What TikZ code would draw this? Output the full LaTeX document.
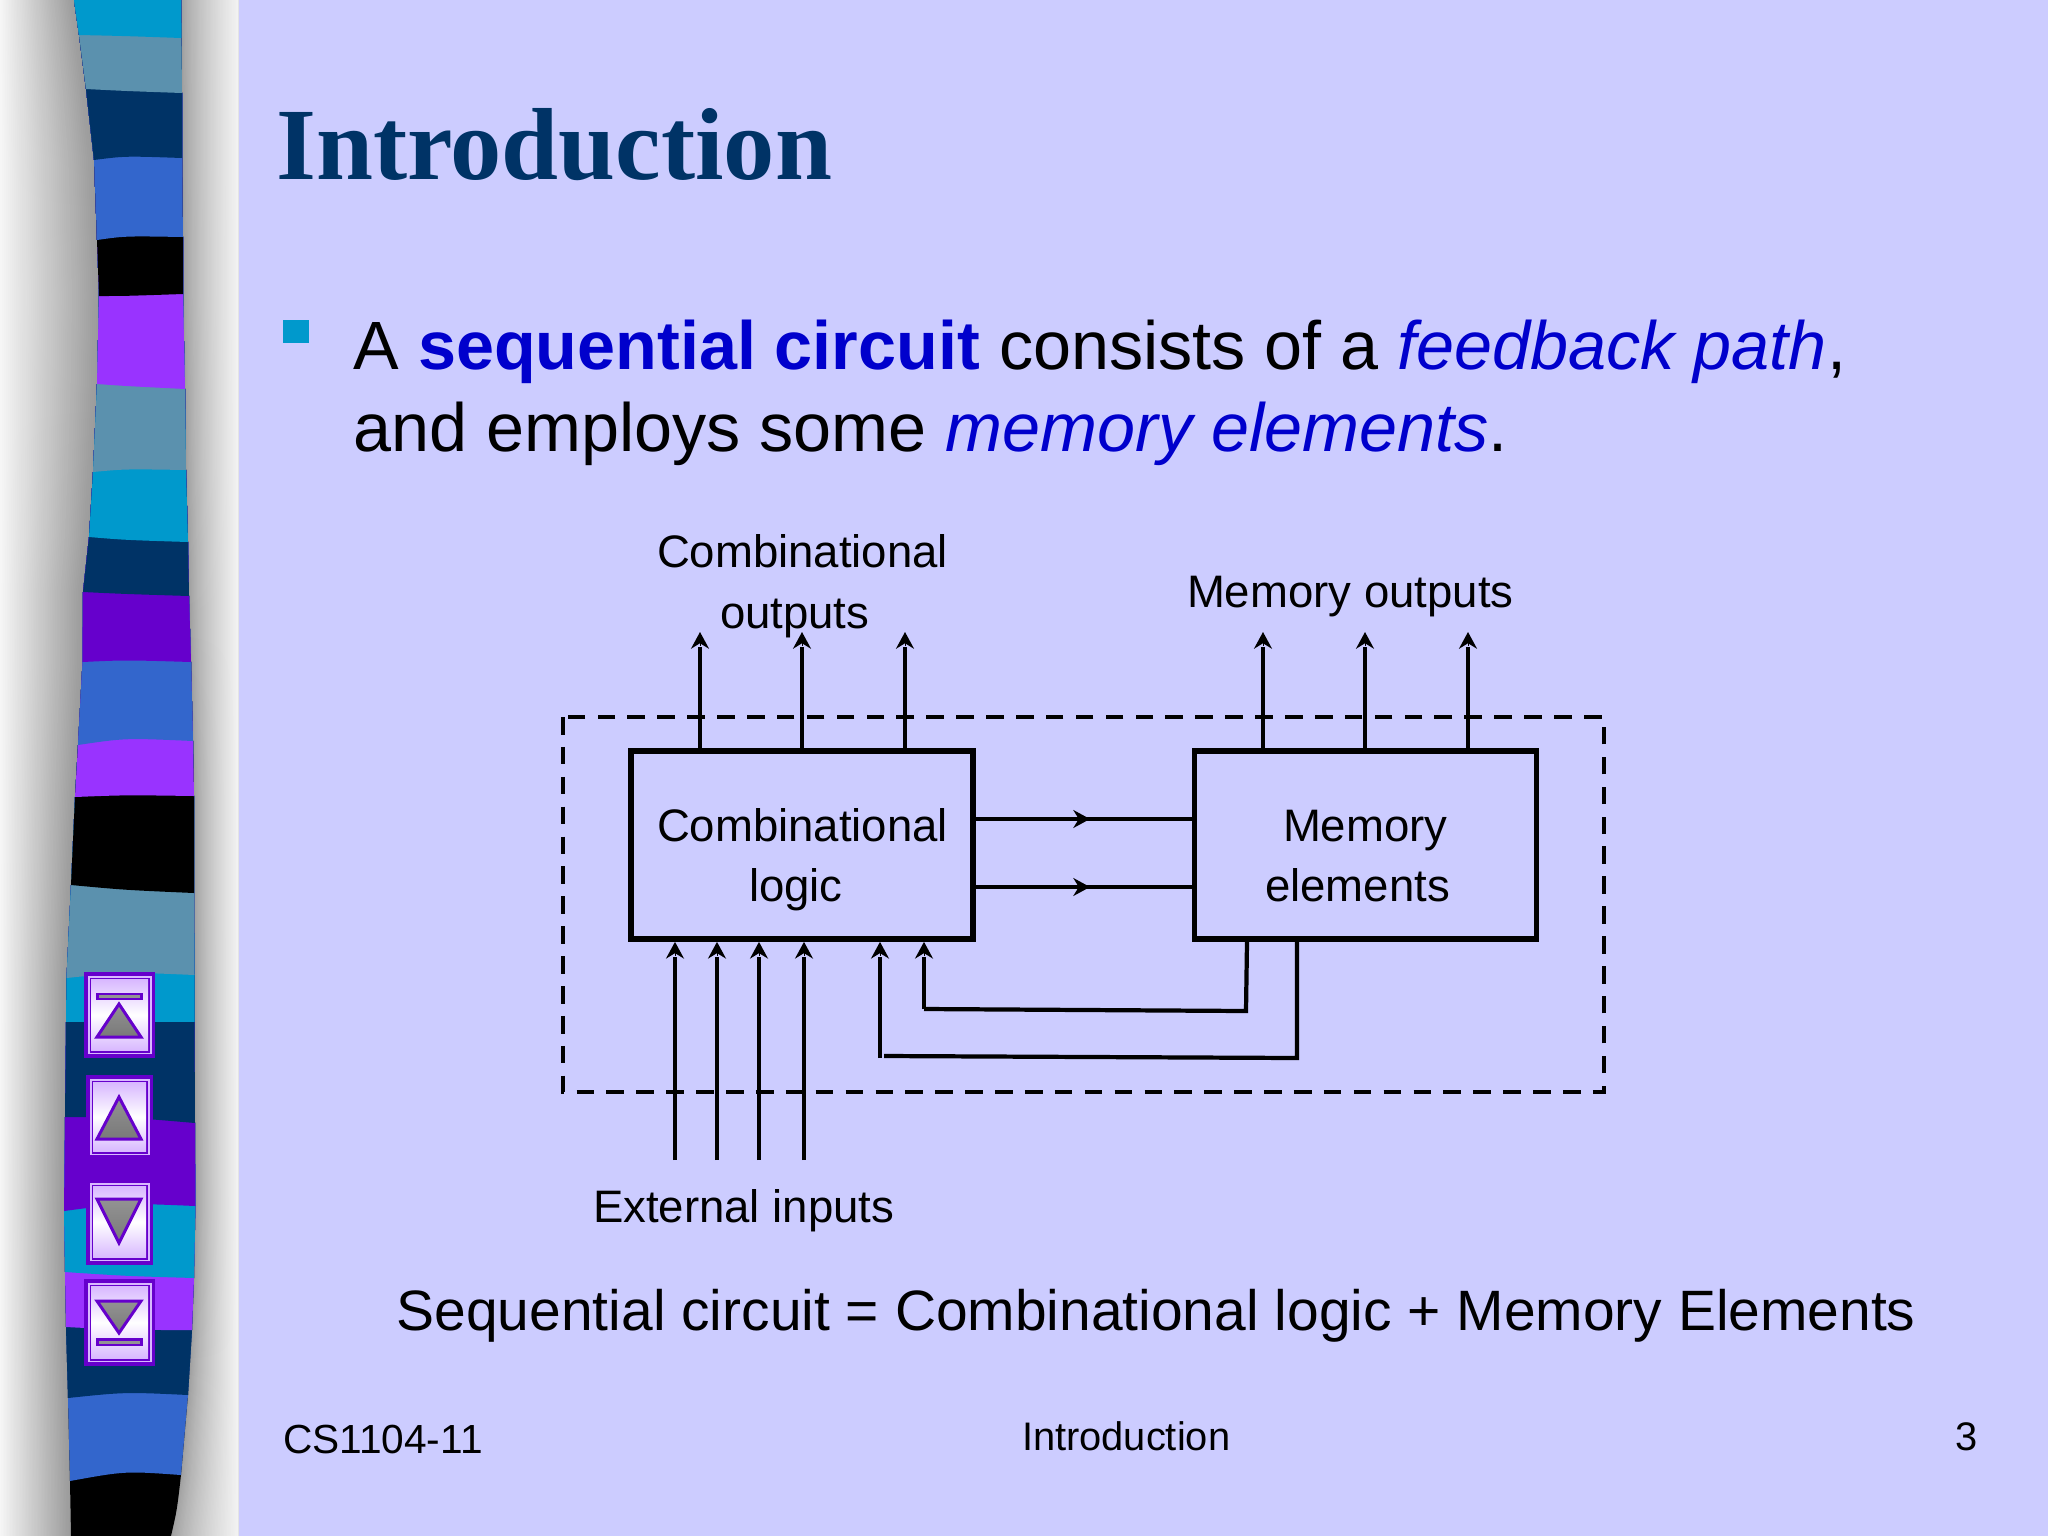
\documentclass[tikz,border=0pt]{standalone}
\usepackage{fontspec}
\setmainfont{Liberation Sans}
\newfontfamily\titlefont{Liberation Serif}
\usetikzlibrary{arrows.meta,calc}
\definecolor{bgc}{HTML}{CCCCFF}
\definecolor{cyanb}{HTML}{0099CC}
\definecolor{tealb}{HTML}{5B91AE}
\definecolor{navyb}{HTML}{003366}
\definecolor{blueb}{HTML}{3366CC}
\definecolor{purpb}{HTML}{9933FF}
\definecolor{violb}{HTML}{6600CC}
\definecolor{accent}{HTML}{0000CC}
\definecolor{lilac}{HTML}{D8B8FF}
\newcommand{\lpts}{74/0,79/35,86/89,94/160,97/240,99/296,97/384,93/472,89/537,83/592,82.5/662,78/745,75/797,71/885,66.5/978,66/1022,65/1117,64/1211,65/1272,66/1327,68/1398,70/1481,71/1536}
\newcommand{\rpts}{181/0,182/93,182/158,183/237,183/294,185/389,186/470,188/542,189/596,191/662,193/741,194/796,194/893,194.5/975,194.5/1022,195/1123,195.5/1206,194/1278,192/1330,188/1395,181/1475,171/1536}
\tikzset{
  x=0.01cm,y=-0.01cm,
  lab/.style={anchor=base west,inner sep=0pt,outer sep=0pt,font=\fontsize{12.95}{15}\selectfont,text=black},
  body/.style={anchor=base west,inner sep=0pt,outer sep=0pt,font=\fontsize{19.43}{23}\selectfont,text=black},
  foot/.style={anchor=base west,inner sep=0pt,outer sep=0pt,font=\fontsize{11.33}{14}\selectfont,text=black},
  wire/.style={line width=1.2pt,draw=black},
  headonly/.style={line width=0.01pt,draw=black,-{Stealth[length=4.8pt,width=5.2pt,inset=1.6pt,line width=0pt]}},
  blockbox/.style={draw=black,line width=1.6pt,fill=none,inner sep=0pt,minimum width=3.42cm,minimum height=1.88cm},
  dashbox/.style={draw=black,line width=1.2pt,dash pattern=on 5pt off 3.5pt},
  trig/.style={draw=violb,line width=.85pt,line join=miter,top color=gray!85,bottom color=gray!95!black},
}
% wire ending in a chevron head with a small gap before the stem
\newcommand{\wirearrow}[2]{%
  \draw[wire,shorten >=4.4pt] (#1) -- (#2);
  \draw[headonly] ($(#2)+(0,14)$) -- (#2);
}
\newcommand{\btn}[4]{%
  \fill[violb] (#3,#1) rectangle (#4,#2);
  \fill[lilac] ({#3+3.5},{#1+4}) rectangle ({#4-3.5},{#2-4});
  \fill[violb] ({#3+5.5},{#1+5.5}) rectangle ({#4-5.5},{#2-5.5});
  \shade[top color=lilac,bottom color=lilac,middle color=white] ({#3+7},{#1+7.5}) rectangle ({#4-7},{#2-7.5});
}
\begin{document}
\begin{tikzpicture}
\useasboundingbox (0,0) rectangle (2048,1536);
\fill[bgc] (0,0) rectangle (2048,1536);
% grey bands, warped along the stripe
\fill[gray!60!white] (0,0) rectangle (238,1536);
\foreach \i in {0,...,47}{
  \pgfmathsetmacro{\t}{1-\i/48}
  \pgfmathsetmacro{\g}{61+\i*0.75}
  \definecolor{gg}{gray}{\fpeval{\g/100}}
  \fill[gg] (0,0) \foreach \a/\b in \lpts { -- ({\t*\a},\b) } -- (0,1536) -- cycle;
}
\foreach \i in {0,...,47}{
  \pgfmathsetmacro{\t}{\i/48}
  \pgfmathsetmacro{\g}{62+33*(\i/47)^0.75}
  \definecolor{gg}{gray}{\fpeval{\g/100}}
  \fill[gg] (238,0) \foreach \a/\b in \rpts { -- ({\a+\t*(238-\a)},\b) } -- (238,1536) -- cycle;
}
% the stripe
\begin{scope}
\clip (74,0) -- (79,35) -- (86,89) -- (94,160) .. controls (96,200) .. (97,240) -- (99,296) -- (97,384) -- (93,472) -- (89,537) -- (83,592) -- (82.5,662) -- (78,745) -- (75,797) -- (71,885) -- (66.5,978) -- (66,1022) -- (65,1117) -- (64,1211) -- (65,1272) -- (66,1327) -- (68,1398) -- (70,1481) -- (71,1536) -- (171,1536) .. controls (177,1510) .. (181,1475) -- (188,1395) -- (192,1330) -- (194,1278) -- (195.5,1206) -- (195,1123) -- (194.5,1022) -- (194.5,975) -- (194,893) -- (194,796) -- (193,741) -- (191,662) -- (189,596) -- (188,542) -- (186,470) -- (185,389) -- (183,294) -- (183,237) -- (182,158) -- (182,93) -- (181,0) -- cycle;
\fill[black] (50,0) rectangle (210,1536);
\fill[blueb] (50,0) -- (50,1481) -- (70,1481) .. controls (125,1471) .. (181,1475) -- (210,1475) -- (210,0) -- cycle;
\fill[navyb] (50,0) -- (50,1398) -- (68,1398) .. controls (125,1392) .. (188,1395) -- (210,1395) -- (210,0) -- cycle;
\fill[purpb] (50,0) -- (50,1327) -- (66,1327) .. controls (125,1330) .. (192,1330) -- (210,1330) -- (210,0) -- cycle;
\fill[cyanb] (50,0) -- (50,1272) -- (65,1272) .. controls (125,1276) .. (194,1278) -- (210,1278) -- (210,0) -- cycle;
\fill[violb] (50,0) -- (50,1211) -- (64,1211) .. controls (125,1203) .. (195.5,1206) -- (210,1206) -- (210,0) -- cycle;
\fill[navyb] (50,0) -- (50,1117) -- (65,1117) .. controls (125,1117) .. (195,1123) -- (210,1123) -- (210,0) -- cycle;
\fill[cyanb] (50,0) rectangle (210,1022);
\fill[tealb] (50,0) -- (50,978) -- (66.5,978) .. controls (125,972) .. (194.5,975) -- (210,975) -- (210,0) -- cycle;
\fill[black] (50,0) -- (50,885) -- (71,885) .. controls (125,890) .. (194,893) -- (210,893) -- (210,0) -- cycle;
\fill[purpb] (50,0) -- (50,797) -- (75,797) .. controls (125,795) .. (194,796) -- (210,796) -- (210,0) -- cycle;
\fill[blueb] (50,0) -- (50,745) -- (78,745) .. controls (125,738) .. (193,741) -- (210,741) -- (210,0) -- cycle;
\fill[violb] (50,0) -- (50,662) -- (82.5,662) .. controls (125,660) .. (191,662) -- (210,662) -- (210,0) -- cycle;
\fill[navyb] (50,0) -- (50,592) -- (83,592) .. controls (125,594) .. (189,596) -- (210,596) -- (210,0) -- cycle;
\fill[cyanb] (50,0) -- (50,537) -- (89,537) .. controls (125,540) .. (188,542) -- (210,542) -- (210,0) -- cycle;
\fill[tealb] (50,0) -- (50,472) -- (93,472) .. controls (125,469) .. (186,470) -- (210,470) -- (210,0) -- cycle;
\fill[purpb] (50,0) -- (50,384) -- (97,384) .. controls (125,386) .. (185,389) -- (210,389) -- (210,0) -- cycle;
\fill[black] (50,0) -- (50,296) -- (99,296) .. controls (125,296) .. (183,294) -- (210,294) -- (210,0) -- cycle;
\fill[blueb] (50,0) -- (50,240) -- (97,240) .. controls (125,236) .. (183,237) -- (210,237) -- (210,0) -- cycle;
\fill[navyb] (50,0) -- (50,160) -- (94,160) .. controls (125,156) .. (182,158) -- (210,158) -- (210,0) -- cycle;
\fill[tealb] (50,0) -- (50,89) -- (86,89) .. controls (125,91) .. (182,93) -- (210,93) -- (210,0) -- cycle;
\fill[cyanb] (50,0) -- (50,35) -- (79,35) .. controls (125,36) .. (181,38) -- (210,38) -- (210,0) -- cycle;
\end{scope}
% navigation buttons
\btn{972}{1058}{84}{155}
\fill[violb] (96,992.5) rectangle (143,999.5);
\fill[gray!85] (99,994.5) rectangle (140,997.5);
\path[trig] (119,1004) -- (141,1037) -- (97,1037) -- cycle;
\btn{1075}{1159}{86}{153}
\path[trig] (119,1097) -- (141,1139) -- (97,1139) -- cycle;
\btn{1179}{1265}{86}{153}
\path[trig] (97,1199) -- (141,1199) -- (119,1243) -- cycle;
\btn{1279}{1366}{84}{155}
\path[trig] (97,1301) -- (141,1301) -- (119,1333) -- cycle;
\fill[violb] (96,1338) rectangle (143,1346);
\fill[gray!85] (99,1340.5) rectangle (140,1343.5);
% title and text
\node[anchor=base west,inner sep=0pt,text=navyb,font=\titlefont\bfseries\fontsize{29.13}{35}\selectfont] (title) at (275.5,179) {Introduction};
\fill[cyanb] (283,320) rectangle (309,343);
\node[body] (l1) at (353.5,369) {A \textcolor{accent}{\textbf{sequential circuit}} consists of a \textcolor{accent}{\textit{feedback path}},};
\node[body] (l2) at (353.5,451) {and employs some \textcolor{accent}{\textit{memory elements}}.};
% diagram
\node[lab] (co1) at (657,567) {Combinational};
\node[lab] (co2) at (720,628) {outputs};
\node[lab] (mo) at (1187,607.5) {Memory outputs};
\node[lab] (ext) at (593,1222) {External inputs};
\draw[dashbox] (563,717) rectangle (1604,1092);
\node[blockbox] (cl) at (802,845) {};
\node[blockbox] (me) at (1365.5,845) {};
\node[lab] (cl1) at (657,841) {Combinational};
\node[lab] (cl2) at (749,901) {logic};
\node[lab] (me1) at (1283,841) {Memory};
\node[lab] (me2) at (1265,901) {elements};
% outputs
\foreach \n/\x in {a/700,b/802,c/905}{
  \coordinate (t\n) at (\x,632);
  \wirearrow{cl.north -| t\n}{t\n}
}
\foreach \n/\x in {d/1263,e/1365,f/1468}{
  \coordinate (t\n) at (\x,632);
  \wirearrow{me.north -| t\n}{t\n}
}
% forward wires
\foreach \n/\y in {g/819,h/887}{
  \coordinate (s\n) at (cl.east |- 0,\y);
  \coordinate (m\n) at (1090,\y);
  \draw[wire] (s\n) -- (me.west |- 0,\y);
  \draw[headonly] ($(m\n)+(-14,0)$) -- (m\n);
}
% external inputs
\foreach \n/\x in {i/675,j/717,k/759,l/804}{
  \coordinate (b\n) at (\x,1160);
  \wirearrow{b\n}{cl.south -| b\n}
}
% feedback
\coordinate (fa) at (1247,942);
\coordinate (fb) at (1246,1011);
\coordinate (fc) at (924,1009);
\coordinate (fd) at (1297,942);
\coordinate (fe) at (1297,1058);
\coordinate (ff) at (884,1056);
\coordinate (fg) at (880,1058);
\draw[wire,line join=miter] (fa) -- (fb) -- (fc);
\wirearrow{fc}{fc |- cl.south}
\draw[wire,line join=miter] (fd) -- (fe) -- (ff);
\wirearrow{fg}{fg |- cl.south}
% caption and footer
\node[anchor=base west,inner sep=0pt,font=\fontsize{16.19}{20}\selectfont] (cap) at (396,1330.5) {Sequential circuit = Combinational logic + Memory Elements};
\node[foot,font=\fontsize{11.56}{14}\selectfont] (f1) at (283,1453.5) {CS1104-11};
\node[foot] (f2) at (1022,1450) {Introduction};
\node[foot] (f3) at (1955,1450) {3};
\end{tikzpicture}
\end{document}
